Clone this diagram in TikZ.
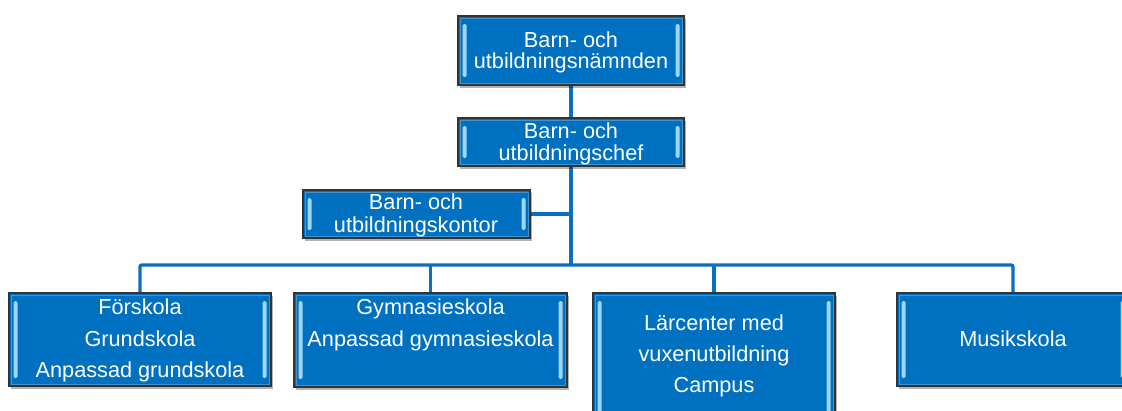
\documentclass[tikz,border=0pt]{standalone}
\usepackage{fontspec}
\setmainfont{Liberation Sans}
\usetikzlibrary{shadows,calc,backgrounds}
\definecolor{boxblue}{HTML}{0070C0}
\definecolor{linkblue}{HTML}{0A6FC2}
\definecolor{bevellight}{HTML}{9DD6F7}
\tikzset{
  x=1pt, y=-1pt,
  orgbox/.style={rectangle, draw=black!80, line width=1.3pt, fill=boxblue,
    inner sep=0pt, outer sep=0pt,
    drop shadow={shadow xshift=2pt, shadow yshift=-2.5pt, opacity=0.3, fill=black},
    path picture={
      \fill[bevellight, rounded corners=1.5pt]
        ($(path picture bounding box.north west)+(4.5pt,-8pt)$) rectangle
        ($(path picture bounding box.south west)+(8.5pt,8pt)$);
      \fill[bevellight, rounded corners=1.5pt]
        ($(path picture bounding box.north east)+(-8.5pt,-8pt)$) rectangle
        ($(path picture bounding box.south east)+(-4.5pt,8pt)$);
      \draw[white, opacity=0.25, line width=1pt]
        ($(path picture bounding box.north west)+(2pt,-2pt)$) rectangle
        ($(path picture bounding box.south east)+(-2pt,2pt)$);
    }},
  txt/.style={text=white, anchor=base, inner sep=0pt,
    font=\fontsize{21.7}{22}\selectfont},
  conn/.style={draw=linkblue, line width=3.4pt},
}
\begin{document}
\begin{tikzpicture}
\useasboundingbox (0,0) rectangle (1122,410);
\clip (0,0) rectangle (1122,410);

% boxes
\node[orgbox, minimum width=226pt, minimum height=69pt] (top) at (571,50.5) {};
\node[orgbox, minimum width=226pt, minimum height=48pt] (chef) at (571,142) {};
\node[orgbox, minimum width=227pt, minimum height=48pt] (kontor) at (416.5,214) {};
\node[orgbox, minimum width=262pt, minimum height=93pt] (b1) at (140,339.5) {};
\node[orgbox, minimum width=273pt, minimum height=94pt] (b2) at (430.5,340) {};
\node[orgbox, minimum width=242pt, minimum height=132pt] (b3) at (714,359) {};
\node[orgbox, minimum width=232pt, minimum height=93pt] (b4) at (1013,339.5) {};

% connectors (behind the boxes)
\coordinate (bus) at (571,265);
\begin{scope}[on background layer]
\fill[white] (0,0) rectangle (1122,410);
\draw[conn] (top.south) -- (chef.north);
\draw[conn] (chef.south) -- (bus);
\draw[conn] (kontor.east) -- (kontor.east -| chef.south);
\draw[conn, rounded corners=2pt] (b1.north) |- (b4.north |- bus) -- (b4.north);
\draw[conn] (b2.north) -- (b2.north |- bus);
\draw[conn] (b3.north) -- (b3.north |- bus);
\end{scope}

% texts
\node[txt] (top1) at (571,47) {Barn- och};
\node[txt] (top2) at (571,68.5) {utbildningsnämnden};
\node[txt] (chef1) at (571,138) {Barn- och};
\node[txt] (chef2) at (571,160) {utbildningschef};
\node[txt] (kon1) at (416,209.5) {Barn- och};
\node[txt] (kon2) at (416,232.5) {utbildningskontor};
\node[txt] (b1a) at (140,314) {Förskola};
\node[txt] (b1b) at (140,346) {Grundskola};
\node[txt] (b1c) at (140,377.5) {Anpassad grundskola};
\node[txt] (b2a) at (430.5,314) {Gymnasieskola};
\node[txt] (b2b) at (430.5,346) {Anpassad gymnasieskola};
\node[txt] (b3a) at (714,330) {Lärcenter med};
\node[txt] (b3b) at (714,361) {vuxenutbildning};
\node[txt] (b3c) at (714,392) {Campus};
\node[txt] (b4a) at (1013,346) {Musikskola};
\end{tikzpicture}
\end{document}
